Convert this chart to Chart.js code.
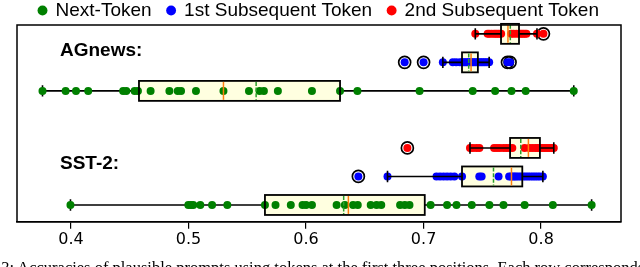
<!DOCTYPE html>
<html>
<head>
<meta charset="utf-8">
<script src="https://cdn.jsdelivr.net/npm/chart.js@4.4.1/dist/chart.umd.min.js"></script>
<style>
  html, body { margin: 0; padding: 0; background: #fff; overflow: hidden; }
  #wrap { position: relative; width: 640px; height: 267px; }
  #caption { position: absolute; left: -46px; top: 258px; font: 16.5px 'Liberation Serif', serif; white-space: nowrap; color: #000; }
</style>
</head>
<body>
<div id="wrap">
  <canvas id="chart" width="640" height="267"></canvas>
  <div id="caption">Figure 3: Accuracies of plausible prompts using tokens at the first three positions. Each row corresponds</div>
</div>
<script>
(function() {
    'use strict';

    var seriesNames = ['Next-Token', '1st Subsequent Token', '2nd Subsequent Token'];
    var seriesColors = ['#008000', '#0000ff', '#ff0000'];
    var datasetNames = ['AGnews:', 'SST-2:'];
    var tickValues = [0.4, 0.5, 0.6, 0.7, 0.8];

    // accuracies of each prompt
    var agNext = [0.3757, 0.3954, 0.4042, 0.4146, 0.4443, 0.4470, 0.4541, 0.4569, 0.4677, 0.4837, 0.4908, 0.4936, 0.5063, 0.5297,
        0.5514, 0.5604, 0.5641, 0.5760, 0.6050, 0.6289, 0.6437, 0.6966, 0.7418, 0.7609, 0.7748, 0.7869, 0.8278];
    var agFirst = [0.7164, 0.7249, 0.7277, 0.7310, 0.7330, 0.7345, 0.7360, 0.7375, 0.7390, 0.7405, 0.7420, 0.7435, 0.7450,
        0.7465, 0.7480, 0.7495, 0.7510, 0.7525, 0.7540, 0.7558];
    var agSecond = [0.7440, 0.7545, 0.7560, 0.7580, 0.7600, 0.7615, 0.7630, 0.7645, 0.7660, 0.7745, 0.7765, 0.7790, 0.7815,
        0.7830, 0.7845, 0.7860, 0.7875, 0.7965];
    var sstNext = [0.3995, 0.4998, 0.5020, 0.5040, 0.5100, 0.5200, 0.5330, 0.5650, 0.5740, 0.5870, 0.5970, 0.6000, 0.6050,
        0.6260, 0.6330, 0.6400, 0.6440, 0.6550, 0.6600, 0.6640, 0.6800, 0.6840, 0.6880, 0.7060, 0.7200, 0.7280, 0.7410,
        0.7560, 0.7680, 0.7860, 0.8100, 0.8430];
    var sstFirst = [0.6693, 0.7110, 0.7140, 0.7170, 0.7200, 0.7230, 0.7262, 0.7327, 0.7474, 0.7494, 0.7638, 0.7728, 0.7745,
        0.7760, 0.7775, 0.7790, 0.7810, 0.7830, 0.7850, 0.7870, 0.7890, 0.7910, 0.7930, 0.7950, 0.7970, 0.7990, 0.8015];
    var sstSecond = [0.7395, 0.7420, 0.7450, 0.7475, 0.7600, 0.7625, 0.7650, 0.7680, 0.7705, 0.7730, 0.7755, 0.7860, 0.7900,
        0.7925, 0.7950, 0.7970, 0.7990, 0.8010, 0.8030, 0.8050, 0.8070, 0.8090, 0.8108];

    // circled outliers
    var agNextOut = [];
    var agFirstOut = [0.6839, 0.7000, 0.7714, 0.7736];
    var agSecondOut = [0.8020];
    var sstNextOut = [];
    var sstFirstOut = [0.6445];
    var sstSecondOut = [0.6862];

    // box stats: [whisker low, q1, median, q3, whisker high, mean]
    var agNextBox = [0.3757, 0.4578, 0.5297, 0.6289, 0.8278, 0.5575];
    var agFirstBox = [0.7164, 0.7327, 0.7404, 0.7462, 0.7558, 0.7384];
    var agSecondBox = [0.7440, 0.7659, 0.7718, 0.7812, 0.7965, 0.7738];
    var sstNextBox = [0.3995, 0.5650, 0.6360, 0.7010, 0.8430, 0.6320];
    var sstFirstBox = [0.6693, 0.7327, 0.7748, 0.7840, 0.8015, 0.7595];
    var sstSecondBox = [0.7395, 0.7736, 0.7892, 0.7990, 0.8108, 0.7827];

    // one row per box, y is the row slot on the hidden y scale
    var rows = [
        { y: 5, series: 0, pts: agNext, out: agNextOut, box: agNextBox },
        { y: 6, series: 1, pts: agFirst, out: agFirstOut, box: agFirstBox },
        { y: 7, series: 2, pts: agSecond, out: agSecondOut, box: agSecondBox },
        { y: 1, series: 0, pts: sstNext, out: sstNextOut, box: sstNextBox },
        { y: 2, series: 1, pts: sstFirst, out: sstFirstOut, box: sstFirstBox },
        { y: 3, series: 2, pts: sstSecond, out: sstSecondOut, box: sstSecondBox }
    ];
    var labelSlots = [{ x: 0.3906, y: 6.42 }, { x: 0.3906, y: 2.45 }];
    var boxHalf = 0.35;
    var capHalf = 0.2;

    function toPoints(values, y) {
        return values.map(function(v) { return { x: v, y: y }; });
    }

    var datasets = [];
    rows.forEach(function(row) {
        datasets.push({
            label: seriesNames[row.series],
            data: toPoints(row.pts.concat(row.out), row.y),
            backgroundColor: seriesColors[row.series],
            borderWidth: 0,
            pointRadius: 4,
            pointStyle: 'circle'
        });
    });
    rows.forEach(function(row) {
        if (!row.out.length) return;
        datasets.push({
            label: 'outliers',
            data: toPoints(row.out, row.y),
            backgroundColor: 'rgba(0,0,0,0)',
            borderColor: '#000',
            borderWidth: 1.7,
            pointRadius: 6
        });
    });

    function drawWhiskers(ctx, xs, ys, row) {
        var b = row.box;
        var yc = ys.getPixelForValue(row.y);
        var capTop = ys.getPixelForValue(row.y + capHalf);
        var capBot = ys.getPixelForValue(row.y - capHalf);
        var pxLo = xs.getPixelForValue(b[0]), pxQ1 = xs.getPixelForValue(b[1]);
        var pxQ3 = xs.getPixelForValue(b[3]), pxHi = xs.getPixelForValue(b[4]);
        ctx.save();
        ctx.strokeStyle = '#000';
        ctx.lineWidth = 1.6;
        ctx.beginPath();
        ctx.moveTo(pxLo, yc); ctx.lineTo(pxQ1, yc);
        ctx.moveTo(pxQ3, yc); ctx.lineTo(pxHi, yc);
        ctx.moveTo(pxLo, capTop); ctx.lineTo(pxLo, capBot);
        ctx.moveTo(pxHi, capTop); ctx.lineTo(pxHi, capBot);
        ctx.stroke();
        ctx.restore();
    }

    var boxPlugin = {
        id: 'boxes',
        beforeDatasetsDraw: function(chart) {
            var ctx = chart.ctx, xs = chart.scales.x, ys = chart.scales.y;
            rows.forEach(function(row) {
                var top = ys.getPixelForValue(row.y + boxHalf);
                var bot = ys.getPixelForValue(row.y - boxHalf);
                var left = xs.getPixelForValue(row.box[1]);
                var right = xs.getPixelForValue(row.box[3]);
                ctx.save();
                ctx.fillStyle = '#ffffe0';
                ctx.fillRect(left, top, right - left, bot - top);
                ctx.restore();
                if (row.series === 0) {
                    drawWhiskers(ctx, xs, ys, row);
                }
            });
        },
        afterDatasetsDraw: function(chart) {
            var ctx = chart.ctx, xs = chart.scales.x, ys = chart.scales.y;
            var area = chart.chartArea;
            rows.forEach(function(row) {
                var b = row.box;
                var top = ys.getPixelForValue(row.y + boxHalf);
                var bot = ys.getPixelForValue(row.y - boxHalf);
                var left = xs.getPixelForValue(b[1]);
                var right = xs.getPixelForValue(b[3]);
                if (row.series !== 0) {
                    drawWhiskers(ctx, xs, ys, row);
                }
                ctx.save();
                ctx.strokeStyle = '#000';
                ctx.lineWidth = 1.8;
                ctx.strokeRect(left, top, right - left, bot - top);
                // median
                ctx.strokeStyle = '#ff7f0e';
                ctx.lineWidth = 1.5;
                ctx.beginPath();
                ctx.moveTo(xs.getPixelForValue(b[2]), top + 1);
                ctx.lineTo(xs.getPixelForValue(b[2]), bot - 1);
                ctx.stroke();
                // mean
                ctx.strokeStyle = '#2ca02c';
                ctx.setLineDash([4, 1.7]);
                ctx.beginPath();
                ctx.moveTo(xs.getPixelForValue(b[5]), top + 1);
                ctx.lineTo(xs.getPixelForValue(b[5]), bot - 1);
                ctx.stroke();
                ctx.restore();
            });

            ctx.save();
            ctx.strokeStyle = '#000';
            ctx.lineWidth = 1.5;
            ctx.strokeRect(area.left, area.top, area.right - area.left, area.bottom - area.top);
            ctx.fillStyle = '#000';
            ctx.font = 'bold 19px "Liberation Sans", Arial, sans-serif';
            ctx.textAlign = 'left';
            ctx.textBaseline = 'middle';
            datasetNames.forEach(function(name, i) {
                ctx.fillText(name, xs.getPixelForValue(labelSlots[i].x), ys.getPixelForValue(labelSlots[i].y));
            });
            ctx.restore();
        }
    };

    var ctx = document.getElementById('chart').getContext('2d');
    var chart = new Chart(ctx, {
        type: 'scatter',
        data: { datasets: datasets },
        plugins: [boxPlugin],
        options: {
            responsive: false,
            animation: false,
            events: [],
            layout: { padding: { top: -15, left: 17, right: 19, bottom: 17 } },
            plugins: {
                tooltip: { enabled: false },
                legend: {
                    display: true,
                    position: 'top',
                    maxHeight: 40,
                    labels: {
                        usePointStyle: true,
                        boxWidth: 7,
                        boxHeight: 7,
                        padding: 16,
                        color: '#000',
                        font: { family: '"Liberation Sans", Arial, sans-serif', size: 19 },
                        filter: function(item) { return item.datasetIndex < 3; }
                    }
                }
            },
            scales: {
                x: {
                    type: 'linear',
                    min: 0.354,
                    max: 0.868,
                    afterBuildTicks: function(scale) {
                        scale.ticks = tickValues.map(function(v) { return { value: v }; });
                    },
                    grid: { display: true, drawOnChartArea: false, drawTicks: true, tickLength: 7, color: '#000', lineWidth: 1.2 },
                    border: { display: true, color: '#000', width: 1.5 },
                    ticks: {
                        color: '#000',
                        padding: 1,
                        maxRotation: 0,
                        font: { family: '"DejaVu Sans", sans-serif', size: 16 },
                        callback: function(v) { return v.toFixed(1); }
                    }
                },
                y: {
                    type: 'linear',
                    min: 0.41,
                    max: 7.31,
                    display: false
                }
            }
        }
    });
})();
</script>
</body>
</html>
